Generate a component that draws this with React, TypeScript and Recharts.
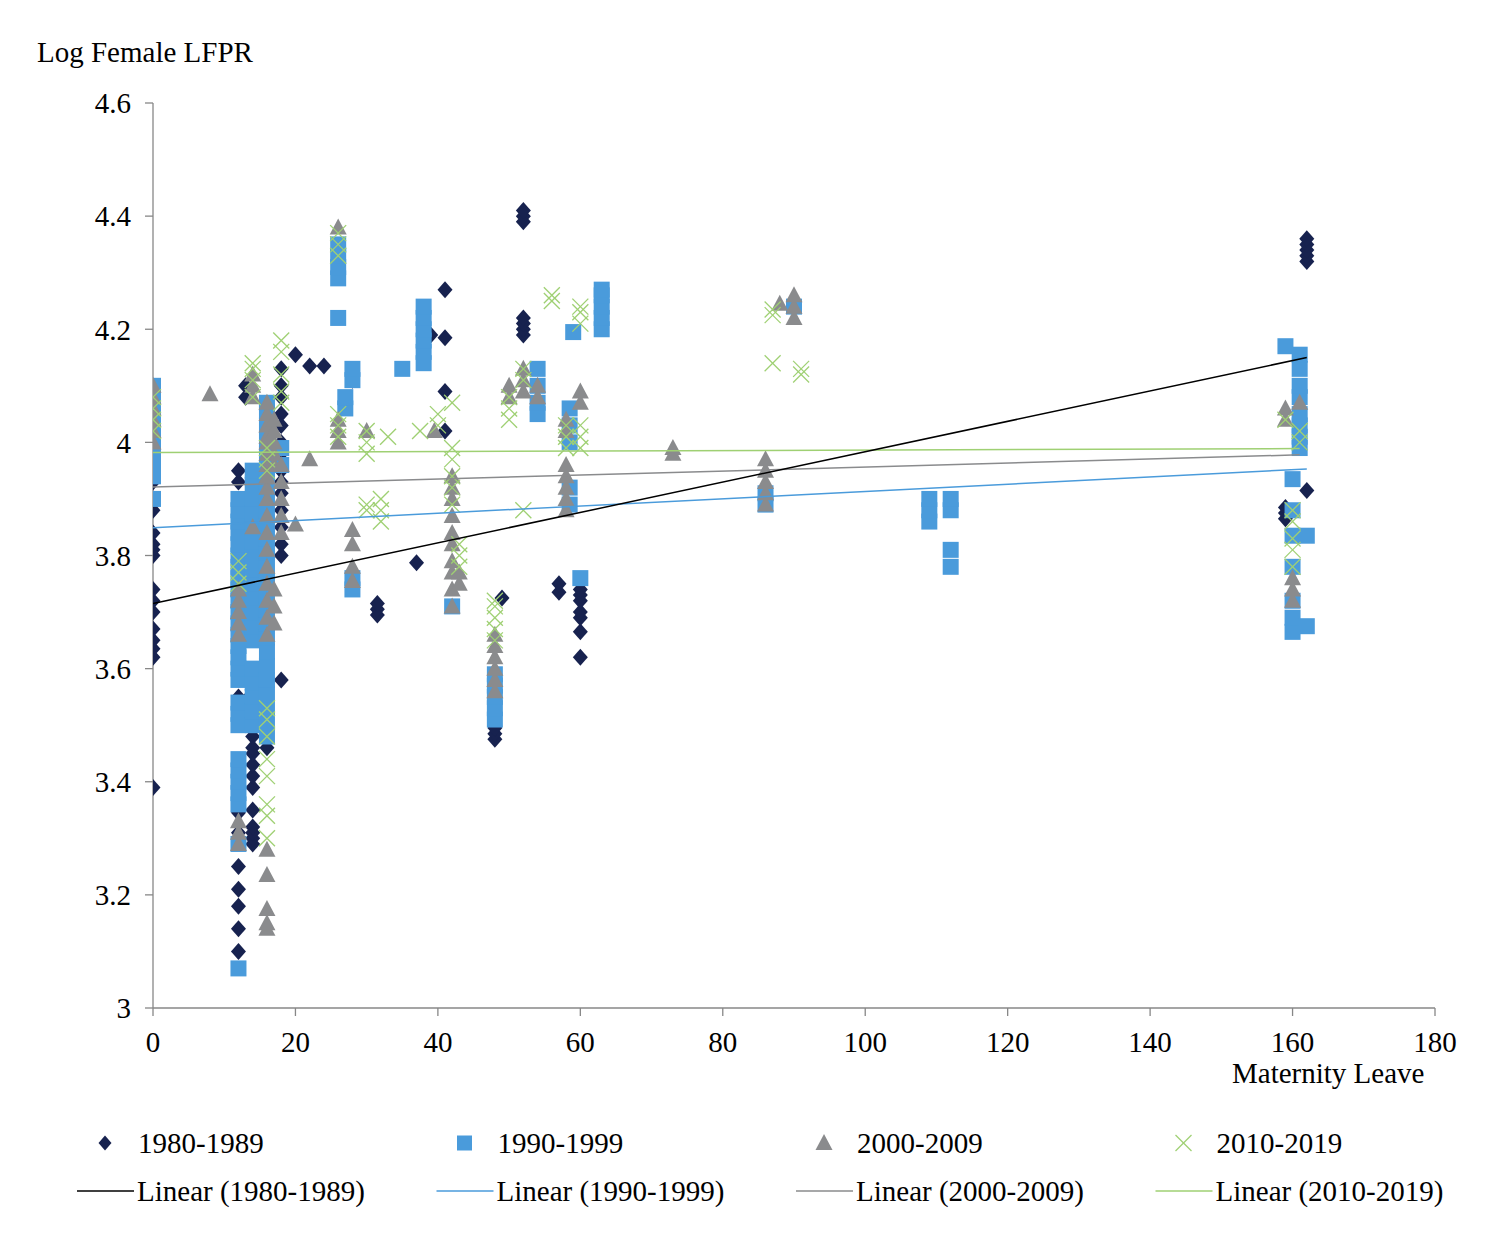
import React from "react";
import { ScatterChart, Scatter, XAxis, YAxis } from "recharts";

// columns of observations: [maternity leave, log female LFPR values]
const d1980: [number, number[]][] = [
  [0, [3.39, 3.62, 3.635, 3.65, 3.67, 3.7, 3.72, 3.74, 3.8, 3.81, 3.82, 3.84, 3.88, 3.9, 3.93]],
  [12, [3.1, 3.14, 3.18, 3.21, 3.25, 3.31, 3.345, 3.51, 3.55, 3.62, 3.79, 3.8, 3.82, 3.83, 3.84, 3.875, 3.89, 3.93, 3.95]],
  [13, [4.08, 4.1]],
  [13.5, [3.5, 3.53, 3.55]],
  [14, [3.29, 3.3, 3.31, 3.32, 3.35, 3.39, 3.41, 3.43, 3.45, 3.46, 3.48, 3.88]],
  [16, [3.46]],
  [18, [3.58, 3.8, 3.82, 3.85, 3.88, 3.91, 3.93, 3.95, 3.97, 4.0, 4.03, 4.05, 4.08, 4.1, 4.13]],
  [20, [4.155]],
  [22, [4.135]],
  [24, [4.135]],
  [28, [4.11]],
  [31.5, [3.695, 3.705, 3.715]],
  [37, [3.787]],
  [39, [4.19]],
  [41, [4.02, 4.09, 4.185, 4.27]],
  [48, [3.475, 3.485, 3.495]],
  [49, [3.725]],
  [52, [4.19, 4.2, 4.21, 4.22, 4.39, 4.4, 4.41]],
  [57, [3.735, 3.75]],
  [60, [3.62, 3.665, 3.69, 3.7, 3.72, 3.73, 3.74]],
  [159, [3.865, 3.875, 3.885]],
  [162, [3.915, 4.32, 4.33, 4.34, 4.35, 4.36]],
];

const d1990: [number, number[]][] = [
  [0, [3.9, 3.94, 3.96, 3.98, 4.0, 4.02, 4.04, 4.06, 4.08, 4.1]],
  [12, [3.07, 3.29, 3.36, 3.38, 3.4, 3.42, 3.44, 3.5, 3.52, 3.54, 3.58, 3.6, 3.62, 3.64, 3.66, 3.68, 3.7, 3.72, 3.74, 3.76, 3.78, 3.8, 3.82, 3.84, 3.86, 3.88, 3.9]],
  [14, [3.5, 3.525, 3.55, 3.575, 3.6, 3.65, 3.675, 3.7, 3.725, 3.75, 3.775, 3.8, 3.825, 3.85, 3.875, 3.9, 3.925, 3.95]],
  [16, [3.48, 3.505, 3.53, 3.555, 3.58, 3.605, 3.63, 3.655, 3.68, 3.705, 3.73, 3.755, 3.78, 3.805, 3.83, 3.855, 3.88, 3.905, 3.93, 3.955, 3.98, 4.005, 4.03, 4.055, 4.07]],
  [18, [3.96, 3.99]],
  [26, [4.22, 4.29, 4.31, 4.33, 4.35]],
  [27, [4.06, 4.08]],
  [28, [3.74, 3.76, 4.11, 4.13]],
  [35, [4.13]],
  [38, [4.14, 4.16, 4.18, 4.2, 4.22, 4.24]],
  [42, [3.71]],
  [48, [3.51, 3.53, 3.55, 3.57, 3.59]],
  [54, [4.05, 4.07, 4.1, 4.13]],
  [58.5, [3.89, 3.92, 4.0, 4.03, 4.06]],
  [59, [4.195]],
  [60, [3.76]],
  [63, [4.2, 4.22, 4.24, 4.26, 4.27]],
  [86, [3.89, 3.91]],
  [90, [4.24]],
  [109, [3.86, 3.88, 3.9]],
  [112, [3.78, 3.81, 3.88, 3.9]],
  [159, [4.17]],
  [160, [3.665, 3.69, 3.72, 3.78, 3.835, 3.88, 3.935]],
  [161, [3.99, 4.01, 4.03, 4.05, 4.08, 4.1, 4.13, 4.155]],
  [162, [3.675, 3.835]],
];

const d2000: [number, number[]][] = [
  [0, [4.0, 4.02, 4.04, 4.06, 4.08, 4.1]],
  [8, [4.085]],
  [12, [3.29, 3.31, 3.33, 3.66, 3.68, 3.7, 3.72, 3.74]],
  [14, [3.85, 4.08, 4.1, 4.12]],
  [16, [3.14, 3.15, 3.175, 3.235, 3.28, 3.66, 3.69, 3.72, 3.75, 3.78, 3.81, 3.84, 3.87, 3.9, 3.92, 3.94, 3.96, 3.98, 4.0, 4.01, 4.03, 4.05, 4.07]],
  [17, [3.68, 3.71, 3.74, 3.96, 3.98, 4.0, 4.02, 4.04]],
  [18, [3.84, 3.87, 3.9, 3.93, 3.96]],
  [20, [3.855]],
  [22, [3.97]],
  [26, [4.0, 4.02, 4.04, 4.38]],
  [28, [3.755, 3.78, 3.82, 3.845]],
  [30, [4.02]],
  [39.5, [4.02]],
  [42, [3.71, 3.74, 3.77, 3.79, 3.82, 3.84, 3.87, 3.9, 3.92, 3.94]],
  [43, [3.75, 3.77]],
  [48, [3.56, 3.58, 3.6, 3.62, 3.64, 3.66]],
  [50, [4.08, 4.1]],
  [52, [4.09, 4.11, 4.13]],
  [54, [4.08, 4.1]],
  [58, [3.88, 3.9, 3.92, 3.94, 3.96, 4.02, 4.04]],
  [60, [4.07, 4.09]],
  [73, [3.98, 3.99]],
  [86, [3.89, 3.91, 3.93, 3.95, 3.97]],
  [88, [4.245]],
  [90, [4.22, 4.24, 4.26]],
  [159, [4.04, 4.06]],
  [160, [3.72, 3.74, 3.76]],
  [161, [4.07]],
];

const d2010: [number, number[]][] = [
  [0, [4.02, 4.04, 4.06, 4.08]],
  [12, [3.75, 3.77, 3.79]],
  [14, [4.08, 4.11, 4.13, 4.14]],
  [16, [3.3, 3.34, 3.36, 3.41, 3.44, 3.48, 3.51, 3.53, 3.95, 3.97, 3.99]],
  [18, [4.07, 4.09, 4.12, 4.16, 4.18]],
  [26, [4.01, 4.03, 4.05, 4.33, 4.35, 4.37]],
  [30, [3.88, 3.89, 3.98, 4.0, 4.02]],
  [32, [3.86, 3.88, 3.9]],
  [33, [4.01]],
  [37.5, [4.02]],
  [40, [4.03, 4.05]],
  [42, [3.89, 3.92, 3.94, 3.97, 3.99, 4.07]],
  [43, [3.78, 3.8, 3.82]],
  [48, [3.65, 3.67, 3.69, 3.71, 3.72]],
  [50, [4.04, 4.06, 4.08]],
  [52, [3.88, 4.11, 4.13]],
  [56, [4.25, 4.26]],
  [58, [3.99, 4.01, 4.03]],
  [60, [3.99, 4.01, 4.03, 4.21, 4.23, 4.24]],
  [87, [4.14, 4.225, 4.235]],
  [91, [4.12, 4.13]],
  [159, [4.04]],
  [160, [3.78, 3.81, 3.83, 3.86, 3.88]],
  [161, [4.0, 4.02]],
];

// fitted trend lines (end points)
const trend1980 = [{ x: 0, y: 3.715 }, { x: 162, y: 4.15 }];
const trend1990 = [{ x: 0, y: 3.849 }, { x: 162, y: 3.953 }];
const trend2000 = [{ x: 0, y: 3.921 }, { x: 161, y: 3.978 }];
const trend2010 = [{ x: 0, y: 3.982 }, { x: 161, y: 3.989 }];

const xTicks = [0, 20, 40, 60, 80, 100, 120, 140, 160, 180];
const yTicks = [3, 3.2, 3.4, 3.6, 3.8, 4, 4.2, 4.4, 4.6];

const NAVY = "#17224f";
const BLUE = "#4a9bdb";
const GRAY = "#8a8b8d";
const GREEN = "#9fd073";
const FONT = "'Liberation Serif', 'Times New Roman', serif";

const flat = (cols: [number, number[]][]) =>
  cols.flatMap(([x, ys]) => ys.map((y) => ({ x, y })));

/* eslint-disable @typescript-eslint/no-explicit-any */
function Diamond({ cx, cy }: any) {
  return <polygon points={`${cx},${cy - 8.5} ${cx + 7.5},${cy} ${cx},${cy + 8.5} ${cx - 7.5},${cy}`} fill={NAVY} />;
}
function Square({ cx, cy }: any) {
  return <rect x={cx - 8} y={cy - 8} width={16} height={16} fill={BLUE} />;
}
function Triangle({ cx, cy }: any) {
  return <polygon points={`${cx},${cy - 9} ${cx + 8.5},${cy + 7} ${cx - 8.5},${cy + 7}`} fill={GRAY} />;
}
function Cross({ cx, cy }: any) {
  const r = 8;
  return (
    <g stroke={GREEN} strokeWidth={1.3}>
      <line x1={cx - r} y1={cy - r} x2={cx + r} y2={cy + r} />
      <line x1={cx - r} y1={cy + r} x2={cx + r} y2={cy - r} />
    </g>
  );
}
const NoDot = () => <g />;
/* eslint-enable @typescript-eslint/no-explicit-any */

const legendMarks = [
  { label: "1980-1989", mark: "d" },
  { label: "1990-1999", mark: "s" },
  { label: "2000-2009", mark: "t" },
  { label: "2010-2019", mark: "x" },
];
const legendLines = [
  { label: "Linear (1980-1989)", color: "#000000" },
  { label: "Linear (1990-1999)", color: BLUE },
  { label: "Linear (2000-2009)", color: GRAY },
  { label: "Linear (2010-2019)", color: GREEN },
];

function LegendMark({ kind, cx, cy }: { kind: string; cx: number; cy: number }) {
  if (kind === "d") return <polygon points={`${cx},${cy - 7.5} ${cx + 6.5},${cy} ${cx},${cy + 7.5} ${cx - 6.5},${cy}`} fill={NAVY} />;
  if (kind === "s") return <rect x={cx - 7.5} y={cy - 7.5} width={15} height={15} fill={BLUE} />;
  if (kind === "t") return <polygon points={`${cx},${cy - 9} ${cx + 8.5},${cy + 7} ${cx - 8.5},${cy + 7}`} fill={GRAY} />;
  return <Cross cx={cx} cy={cy} />;
}

export default function App() {
  const tick = { fill: "#000", fontSize: 29, fontFamily: FONT };
  const axisLine = { stroke: "#878787", strokeWidth: 1.3 };
  return (
    <div
      style={{
        position: "absolute",
        left: 0,
        top: 0,
        width: 1494,
        height: 1250,
        background: "#fff",
        fontFamily: FONT,
      }}
    >
      <ScatterChart width={1494} height={1250} margin={{ top: 103, right: 59, bottom: 192, left: 73 }}>
        <XAxis
          type="number"
          dataKey="x"
          domain={[0, 180]}
          ticks={xTicks}
          allowDataOverflow
          height={50}
          tick={tick}
          tickSize={8}
          tickMargin={15}
          axisLine={axisLine}
          tickLine={axisLine}
        />
        <YAxis
          type="number"
          dataKey="y"
          domain={[3, 4.6]}
          ticks={yTicks}
          allowDataOverflow
          width={80}
          tick={tick}
          tickSize={8}
          tickMargin={14}
          axisLine={axisLine}
          tickLine={axisLine}
        />
        <Scatter data={flat(d1980)} shape={Diamond} isAnimationActive={false} />
        <Scatter data={flat(d1990)} shape={Square} isAnimationActive={false} />
        <Scatter data={flat(d2000)} shape={Triangle} isAnimationActive={false} />
        <Scatter data={flat(d2010)} shape={Cross} isAnimationActive={false} />
        <Scatter data={trend2010} line={{ stroke: GREEN, strokeWidth: 1.5 }} shape={NoDot} isAnimationActive={false} />
        <Scatter data={trend2000} line={{ stroke: GRAY, strokeWidth: 1.5 }} shape={NoDot} isAnimationActive={false} />
        <Scatter data={trend1990} line={{ stroke: BLUE, strokeWidth: 1.5 }} shape={NoDot} isAnimationActive={false} />
        <Scatter data={trend1980} line={{ stroke: "#000", strokeWidth: 1.5 }} shape={NoDot} isAnimationActive={false} />
      </ScatterChart>
      <svg
        width={1494}
        height={1250}
        style={{ position: "absolute", left: 0, top: 0, pointerEvents: "none" }}
        fontFamily={FONT}
        fontSize={29}
      >
        <text x={37} y={62}>Log Female LFPR</text>
        <text x={1232} y={1083}>Maternity Leave</text>
        {legendMarks.map((m, i) => (
          <g key={m.label}>
            <LegendMark kind={m.mark} cx={105 + i * 359.5} cy={1143} />
            <text x={138 + i * 359.5} y={1153}>{m.label}</text>
          </g>
        ))}
        {legendLines.map((l, i) => (
          <g key={l.label}>
            <line x1={77 + i * 359.5} x2={134 + i * 359.5} y1={1191} y2={1191} stroke={l.color} strokeWidth={1.5} />
            <text x={137 + i * 359.5} y={1201}>{l.label}</text>
          </g>
        ))}
      </svg>
    </div>
  );
}
